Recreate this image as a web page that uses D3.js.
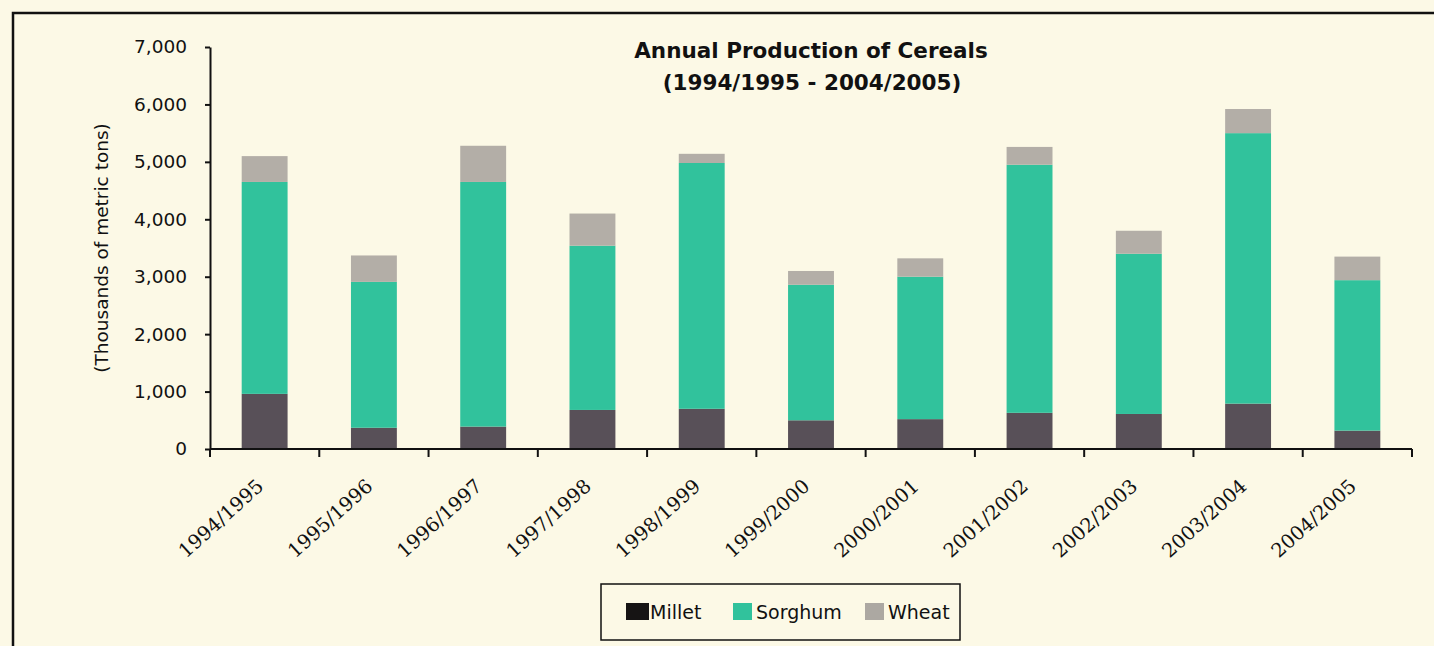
<!DOCTYPE html>
<html>
<head>
<meta charset="utf-8">
<script src="https://cdn.jsdelivr.net/npm/d3@7"></script>
<style>
  body { margin: 0; background: #fcf9e6; }
  svg { display: block; }
</style>
</head>
<body>
<div class="chart"></div>
<script>
// seasons on the x axis
var seasons = ["1994/1995", "1995/1996", "1996/1997", "1997/1998", "1998/1999",
               "1999/2000", "2000/2001", "2001/2002", "2002/2003", "2003/2004", "2004/2005"];
// thousands of metric tons
var millet  = [960, 370, 390, 680, 700, 500, 520, 630, 610, 790, 320];
var sorghum = [3690, 2540, 4260, 2860, 4280, 2360, 2480, 4320, 2790, 4710, 2620];
var wheat   = [450, 460, 630, 560, 160, 240, 320, 310, 400, 420, 410];
var yTicks  = [0, 1000, 2000, 3000, 4000, 5000, 6000, 7000];
var seriesNames = ["Millet", "Sorghum", "Wheat"];

var w = 1434, h = 646;
var colors = { Millet: "#585058", Sorghum: "#31c29c", Wheat: "#b3aea7" };
var swatch = { Millet: "#161414", Sorghum: "#31c29c", Wheat: "#aca8a2" };
var sans = "'DejaVu Sans', Verdana, sans-serif";

var svg = d3.select(".chart").append("svg").attr("width", w).attr("height", h);

// frame of the scanned box
svg.append("rect").attr("x", 13).attr("y", 13).attr("width", 1440).attr("height", 700)
   .attr("fill", "none").attr("stroke", "#111").attr("stroke-width", 2.5);

var x = d3.scaleBand().domain(seasons).range([210, 1412])
          .paddingInner(0.58).paddingOuter(0.29);
var y = d3.scaleLinear().domain([0, 7000]).range([449, 47]);

var rows = seasons.map(function(s, i){
  return { season: s, Millet: millet[i], Sorghum: sorghum[i], Wheat: wheat[i] };
});
var stack = d3.stack().keys(seriesNames)(rows);

svg.append("g").selectAll("g")
   .data(stack)
   .enter().append("g")
   .attr("fill", function(d){ return colors[d.key]; })
   .selectAll("rect")
   .data(function(d){ return d; })
   .enter().append("rect")
   .attr("x", function(d){ return x(d.data.season); })
   .attr("y", function(d){ return y(d[1]); })
   .attr("width", x.bandwidth())
   .attr("height", function(d){ return y(d[0]) - y(d[1]); });

// y axis
var yAxis = svg.append("g").attr("transform", "translate(210,0)")
   .call(d3.axisLeft(y).tickValues(yTicks).tickFormat(d3.format(",")).tickSize(5).tickSizeOuter(0));
yAxis.select(".domain").attr("stroke", "#111").attr("stroke-width", 2);
yAxis.selectAll(".tick line").attr("stroke", "#111").attr("stroke-width", 2);
yAxis.selectAll("text").attr("x", -23)
   .style("font-family", sans).style("font-size", "18.5px").attr("fill", "#111");

// x axis line with ticks between categories
var step = x.step();
svg.append("line").attr("x1", 210).attr("x2", 1412).attr("y1", 449).attr("y2", 449)
   .attr("stroke", "#111").attr("stroke-width", 2);
svg.append("g").selectAll("line")
   .data(d3.range(seasons.length + 1))
   .enter().append("line")
   .attr("x1", function(i){ return x.range()[0] + i * step; })
   .attr("x2", function(i){ return x.range()[0] + i * step; })
   .attr("y1", 449).attr("y2", 457)
   .attr("stroke", "#111").attr("stroke-width", 2);

svg.append("g").selectAll("text")
   .data(seasons)
   .enter().append("text")
   .text(function(d){ return d; })
   .attr("transform", function(d){
     return "translate(" + (x(d) + x.bandwidth() / 2) + ",488) rotate(-42)";
   })
   .attr("text-anchor", "end")
   .style("font-family", "'DejaVu Serif', Georgia, serif")
   .style("font-size", "19.5px").attr("fill", "#111");

// y axis title
svg.append("text")
   .attr("transform", "translate(108,248) rotate(-90)")
   .attr("text-anchor", "middle")
   .style("font-family", sans).style("font-size", "18.5px").attr("fill", "#111")
   .text("(Thousands of metric tons)");

// title
var title = svg.append("text").attr("text-anchor", "middle")
   .style("font-family", sans).style("font-size", "21.5px")
   .style("font-weight", "bold").attr("fill", "#111");
title.append("tspan").attr("x", 811).attr("y", 58).text("Annual Production of Cereals");
title.append("tspan").attr("x", 812).attr("y", 90).text("(1994/1995 - 2004/2005)");

// legend
var legend = svg.append("g");
legend.append("rect").attr("x", 601).attr("y", 584).attr("width", 359).attr("height", 56)
   .attr("fill", "none").attr("stroke", "#111").attr("stroke-width", 1.5);
var legX = [626, 733, 865];
var items = legend.selectAll("g.item").data(seriesNames).enter().append("g")
   .attr("transform", function(d, i){ return "translate(" + legX[i] + ",603)"; });
items.append("rect").attr("width", function(d, i){ return i === 0 ? 23 : 19; }).attr("height", 17)
   .attr("fill", function(d){ return swatch[d]; });
items.append("text").attr("x", function(d, i){ return i === 0 ? 24 : 23; }).attr("y", 16)
   .style("font-family", sans).style("font-size", "19px").attr("fill", "#111")
   .text(function(d){ return d; });
</script>
</body>
</html>
